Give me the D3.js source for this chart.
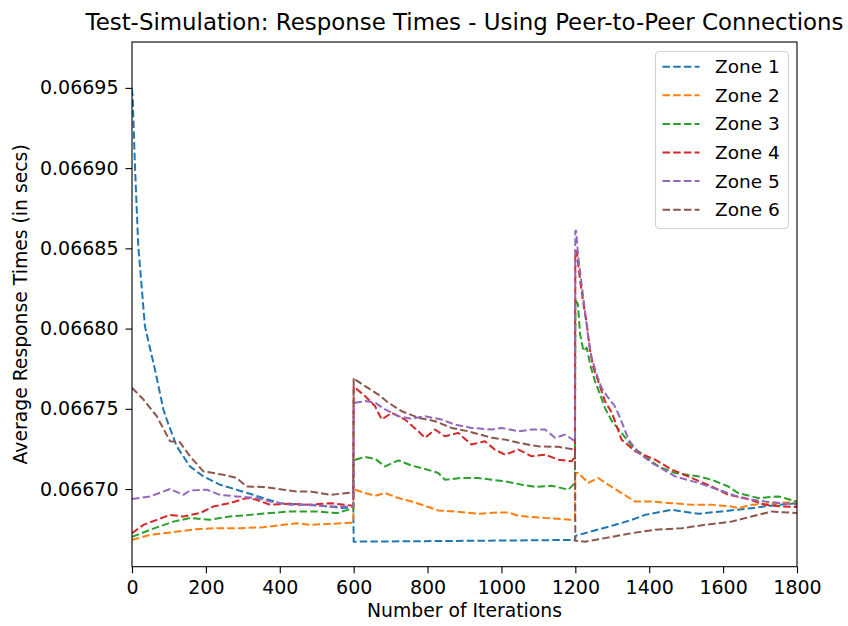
<!DOCTYPE html>
<html>
<head>
<meta charset="utf-8">
<script src="https://cdn.jsdelivr.net/npm/d3@7"></script>
<style>
  html, body { margin: 0; padding: 0; background: #fff; }
  svg { display: block; font-family: "DejaVu Sans", sans-serif; }
</style>
</head>
<body>
<svg id="chart" width="848" height="626"></svg>
<script>
// ---- Data (iteration, average response time in seconds) ----
const zone1 = [[0,0.0669496],[2,0.0669433],[8,0.0669014],[17,0.0668514],[35,0.0668014],[62,0.0667746],[85,0.0667496],[94,0.0667433],[121,0.0667266],[157,0.0667141],[193,0.0667079],[238,0.0667027],[283,0.0666996],[328,0.0666964],[355,0.0666944],[400,0.0666912],[464,0.0666902],[536,0.0666891],[572,0.0666881],[599,0.0666889],[600,0.0666672],[900,0.0666677],[1199,0.0666683],[1200,0.0666708],[1226,0.0666725],[1308,0.0666777],[1353,0.0666808],[1389,0.0666839],[1461,0.0666871],[1488,0.066686],[1533,0.0666846],[1596,0.066686],[1677,0.0666881],[1750,0.0666902],[1800,0.0666912]];
const zone2 = [[0,0.0666683],[49,0.0666714],[103,0.0666729],[175,0.066675],[229,0.0666756],[292,0.0666756],[355,0.0666762],[410,0.0666777],[446,0.0666787],[482,0.0666777],[536,0.0666783],[599,0.0666791],[600,0.0666996],[604,0.0666996],[631,0.0666975],[658,0.0666958],[685,0.0666975],[721,0.0666944],[757,0.0666922],[793,0.0666896],[829,0.0666866],[874,0.066686],[937,0.0666846],[992,0.0666854],[1019,0.0666854],[1046,0.0666833],[1118,0.0666819],[1199,0.0666808],[1200,0.06671],[1208,0.06671],[1235,0.0667038],[1262,0.0667069],[1289,0.0667027],[1325,0.0666975],[1362,0.0666922],[1407,0.0666922],[1461,0.0666912],[1515,0.0666902],[1569,0.0666902],[1623,0.0666891],[1641,0.0666881],[1677,0.0666902],[1750,0.0666912],[1800,0.0666922]];
const zone3 = [[0,0.0666702],[49,0.0666746],[112,0.0666797],[157,0.0666819],[211,0.0666808],[265,0.0666829],[319,0.0666839],[374,0.066685],[428,0.066686],[500,0.066686],[554,0.066685],[599,0.0666881],[600,0.0667194],[604,0.0667183],[631,0.06672],[658,0.0667188],[685,0.0667141],[721,0.0667179],[757,0.0667146],[793,0.0667125],[829,0.06671],[847,0.0667058],[892,0.0667069],[937,0.0667069],[974,0.0667058],[1010,0.0667048],[1055,0.0667027],[1091,0.0667013],[1136,0.0667021],[1181,0.0666996],[1199,0.0667038],[1200,0.066818],[1207,0.0668152],[1213,0.0667964],[1222,0.066786],[1231,0.0667881],[1240,0.0667777],[1253,0.0667673],[1267,0.0667589],[1280,0.0667506],[1299,0.0667423],[1325,0.066735],[1353,0.0667266],[1389,0.0667204],[1425,0.0667141],[1470,0.06671],[1533,0.0667079],[1569,0.0667058],[1614,0.0667016],[1641,0.0666975],[1695,0.0666944],[1750,0.0666954],[1800,0.0666922]];
const zone4 = [[0,0.0666725],[31,0.0666777],[67,0.0666808],[103,0.0666839],[139,0.0666829],[184,0.066685],[220,0.0666891],[265,0.0666912],[310,0.0666944],[337,0.0666933],[374,0.0666902],[428,0.0666908],[482,0.0666902],[536,0.0666912],[599,0.0666896],[600,0.0667641],[604,0.0667631],[631,0.0667579],[658,0.0667516],[676,0.0667433],[703,0.0667475],[739,0.0667433],[775,0.066736],[793,0.0667319],[820,0.0667371],[847,0.0667329],[883,0.066735],[919,0.0667277],[955,0.0667298],[982,0.0667246],[1010,0.0667214],[1046,0.0667246],[1082,0.0667204],[1118,0.0667214],[1154,0.0667183],[1190,0.0667173],[1199,0.06672],[1200,0.0668485],[1204,0.066848],[1213,0.0668298],[1222,0.0668152],[1231,0.0668027],[1240,0.066786],[1249,0.0667756],[1262,0.0667673],[1280,0.0667548],[1299,0.0667475],[1325,0.0667308],[1362,0.0667235],[1416,0.0667183],[1461,0.0667121],[1515,0.0667069],[1569,0.0667016],[1614,0.0666964],[1659,0.0666944],[1713,0.0666902],[1758,0.0666891],[1800,0.0666888]];
const zone5 = [[0,0.0666938],[49,0.0666954],[103,0.0667],[139,0.0666964],[157,0.0666991],[202,0.0666996],[238,0.0666964],[283,0.0666954],[337,0.0666944],[374,0.0666922],[428,0.0666902],[482,0.0666902],[536,0.0666891],[599,0.0666891],[600,0.0667538],[604,0.0667538],[631,0.0667548],[658,0.0667538],[685,0.0667496],[721,0.0667454],[757,0.0667438],[793,0.0667454],[838,0.0667433],[874,0.0667402],[919,0.0667381],[974,0.0667371],[1001,0.0667381],[1046,0.066736],[1082,0.0667371],[1118,0.0667371],[1145,0.0667319],[1172,0.0667339],[1199,0.0667298],[1200,0.066861],[1202,0.066861],[1208,0.0668444],[1217,0.0668277],[1226,0.066811],[1235,0.0667944],[1244,0.0667819],[1258,0.0667714],[1271,0.0667631],[1289,0.0667569],[1307,0.0667516],[1321,0.0667444],[1344,0.0667308],[1371,0.0667225],[1407,0.0667163],[1470,0.0667079],[1533,0.0667038],[1587,0.0666996],[1650,0.0666944],[1713,0.0666922],[1800,0.0666902]];
const zone6 = [[0,0.0667631],[31,0.0667558],[67,0.0667454],[103,0.0667298],[130,0.0667291],[157,0.0667204],[193,0.066711],[247,0.0667089],[283,0.0667069],[310,0.0667016],[355,0.0667013],[410,0.0666996],[446,0.0666985],[482,0.0666985],[536,0.0666964],[599,0.0666979],[600,0.0667694],[604,0.0667683],[631,0.0667641],[667,0.0667589],[694,0.0667538],[730,0.0667485],[775,0.0667444],[820,0.0667423],[865,0.0667381],[910,0.066736],[974,0.0667319],[1010,0.0667308],[1046,0.0667288],[1100,0.0667266],[1154,0.0667263],[1199,0.0667246],[1200,0.0666677],[1226,0.0666672],[1280,0.0666694],[1353,0.0666725],[1416,0.0666746],[1488,0.0666756],[1551,0.0666777],[1623,0.0666797],[1677,0.0666829],[1731,0.066686],[1800,0.066685]];

const seriesNames = ["Zone 1","Zone 2","Zone 3","Zone 4","Zone 5","Zone 6"];
const seriesData = [zone1, zone2, zone3, zone4, zone5, zone6];
const colors = ["#1f77b4","#ff7f0e","#2ca02c","#d62728","#9467bd","#8c564b"];
const xTicks = [0,200,400,600,800,1000,1200,1400,1600,1800];
const yTicks = [0.06670,0.06675,0.06680,0.06685,0.06690,0.06695];
const titleText = "Test-Simulation: Response Times - Using Peer-to-Peer Connections";
const xLabel = "Number of Iterations";
const yLabel = "Average Response Times (in secs)";

// ---- Layout ----
const plot = {left: 132, right: 797, top: 42, bottom: 566.7};
const svg = d3.select("#chart");

const x = d3.scaleLinear().domain([0, 1800]).range([plot.left, plot.right]);
const y = d3.scaleLinear().domain([0.0666516, 0.0669786]).range([plot.bottom, plot.top]);

const tickFont = 19;
const labelFont = 18.8;

// Clip
svg.append("defs").append("clipPath").attr("id", "clip")
  .append("rect").attr("x", plot.left).attr("y", plot.top)
  .attr("width", plot.right - plot.left).attr("height", plot.bottom - plot.top);

// Lines
const line = d3.line().x(d => x(d[0])).y(d => y(d[1]));
const gLines = svg.append("g").attr("clip-path", "url(#clip)");
seriesData.forEach((s, i) => {
  gLines.append("path")
    .attr("d", line(s))
    .attr("fill", "none")
    .attr("stroke", colors[i])
    .attr("stroke-width", 2)
    .attr("stroke-dasharray", "7.5,3.2")
    .attr("stroke-linejoin", "round");
});

// Axes
const xAxis = d3.axisBottom(x).tickValues(xTicks).tickSize(6.5).tickPadding(4).tickFormat(d3.format("d"));
const yAxis = d3.axisLeft(y).tickValues(yTicks).tickSize(6.5).tickPadding(7).tickFormat(d3.format(".5f"));

const gx = svg.append("g").attr("transform", `translate(0,${plot.bottom})`).call(xAxis);
const gy = svg.append("g").attr("transform", `translate(${plot.left},0)`).call(yAxis);
[gx, gy].forEach(g => {
  g.select(".domain").remove();
  g.selectAll(".tick line").attr("stroke", "#000").attr("stroke-width", 1.1);
  g.selectAll(".tick text").attr("fill", "#000").attr("font-size", tickFont)
    .attr("font-family", "DejaVu Sans");
});
gx.selectAll(".tick text").attr("dy", "0.88em");

// Spines
svg.append("rect")
  .attr("x", plot.left).attr("y", plot.top)
  .attr("width", plot.right - plot.left).attr("height", plot.bottom - plot.top)
  .attr("fill", "none").attr("stroke", "#000").attr("stroke-width", 1.1);

// Title & labels
svg.append("text").attr("x", (plot.left + plot.right) / 2).attr("y", 30)
  .attr("text-anchor", "middle").attr("font-size", 22.9).attr("fill", "#000")
  .text(titleText);
svg.append("text").attr("x", (plot.left + plot.right) / 2).attr("y", 617)
  .attr("text-anchor", "middle").attr("font-size", labelFont).attr("fill", "#000")
  .text(xLabel);
svg.append("text")
  .attr("transform", `translate(27,${(plot.top + plot.bottom) / 2}) rotate(-90)`)
  .attr("text-anchor", "middle").attr("font-size", labelFont).attr("fill", "#000")
  .text(yLabel);

// Legend
const lg = svg.append("g");
lg.append("rect").attr("x", 655.5).attr("y", 51.5).attr("width", 133).attr("height", 177)
  .attr("rx", 4).attr("fill", "#fff").attr("fill-opacity", 0.8)
  .attr("stroke", "#d0d0d0").attr("stroke-width", 1.1);
seriesNames.forEach((name, i) => {
  const yy = 66.7 + i * 28.6;
  lg.append("line").attr("x1", 662.5).attr("x2", 699.5).attr("y1", yy).attr("y2", yy)
    .attr("stroke", colors[i]).attr("stroke-width", 2).attr("stroke-dasharray", "7.5,3.2");
  lg.append("text").attr("x", 715).attr("y", yy).attr("dy", "0.35em")
    .attr("font-size", 18.5).attr("fill", "#000").text(name);
});
</script>
</body>
</html>
